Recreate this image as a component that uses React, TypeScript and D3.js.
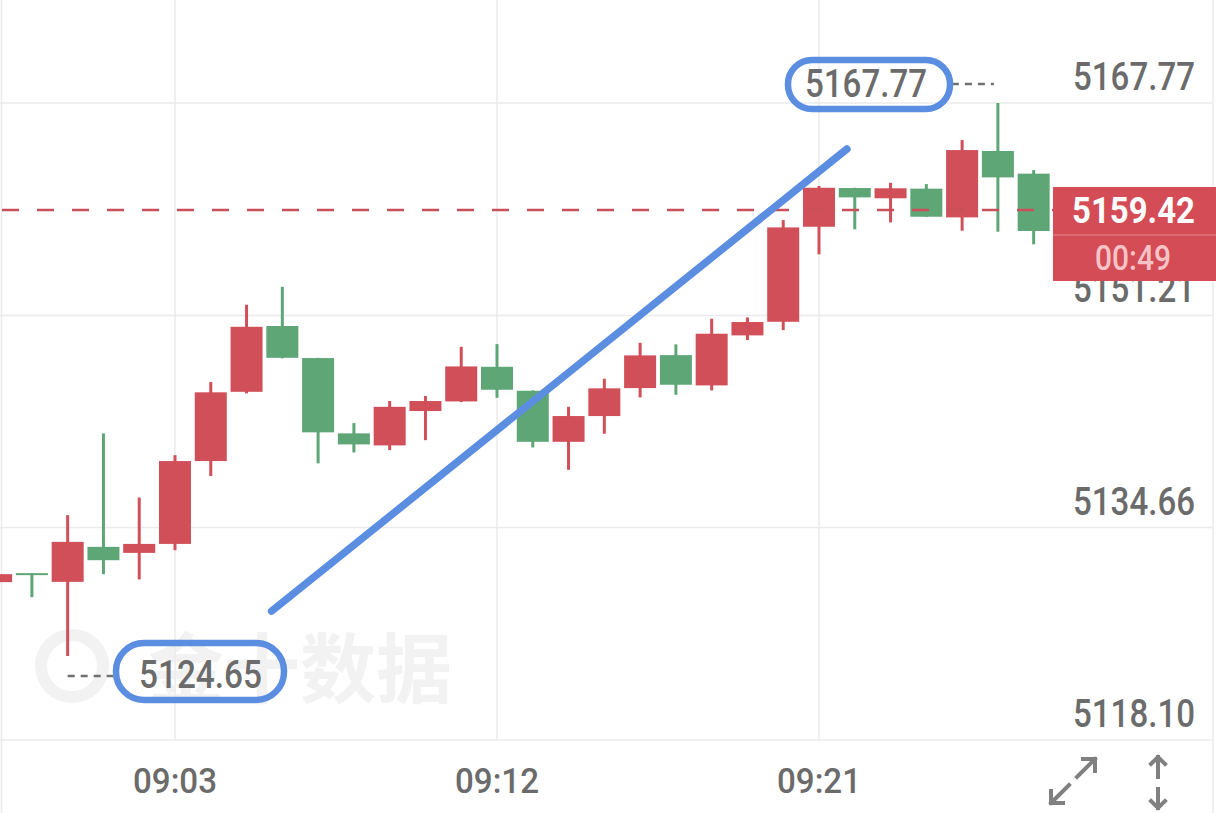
import * as d3 from "d3";

// candle data (1-minute bars)
const times = [
  "08:58", "08:59", "09:00", "09:01", "09:02", "09:03", "09:04", "09:05", "09:06", "09:07",
  "09:08", "09:09", "09:10", "09:11", "09:12", "09:13", "09:14", "09:15", "09:16", "09:17",
  "09:18", "09:19", "09:20", "09:21", "09:22", "09:23", "09:24", "09:25", "09:26", "09:27",
];
const opens = [
  5130.41, 5131.11, 5130.43, 5133.16, 5132.69, 5133.39, 5139.85, 5145.25, 5150.38, 5147.88,
  5142.01, 5141.07, 5143.75, 5144.5, 5147.2, 5145.33, 5141.35, 5143.36, 5145.54, 5148.11,
  5145.75, 5149.65, 5150.71, 5158.12, 5161.14, 5160.34, 5161.09, 5158.85, 5164.03, 5162.26,
];
const highs = [
  5131.1, 5131.11, 5135.63, 5142.01, 5137.01, 5140.31, 5146.01, 5152.04, 5153.44, 5147.9,
  5142.81, 5144.53, 5144.92, 5148.76, 5148.97, 5145.36, 5144.08, 5146.27, 5149.07, 5148.95,
  5150.95, 5151.05, 5158.64, 5161.3, 5161.16, 5161.55, 5161.45, 5164.88, 5167.77, 5162.54,
];
const lows = [
  5130.35, 5129.24, 5124.65, 5131.03, 5130.62, 5132.9, 5138.68, 5145.13, 5147.86, 5139.67,
  5140.52, 5140.7, 5141.48, 5144.45, 5144.78, 5140.91, 5139.17, 5141.98, 5144.81, 5145.02,
  5145.36, 5149.28, 5150.06, 5155.97, 5157.92, 5158.46, 5158.9, 5157.81, 5157.73, 5156.75,
];
const closes = [
  5131.03, 5131.03, 5133.55, 5132.12, 5133.39, 5139.85, 5145.21, 5150.32, 5147.9, 5142.09,
  5141.15, 5144.08, 5144.53, 5147.23, 5145.41, 5141.35, 5143.36, 5145.52, 5148.09, 5145.8,
  5149.78, 5150.69, 5158.07, 5161.16, 5160.41, 5161.12, 5158.9, 5164.1, 5161.97, 5157.79,
];

const yTicks = [5167.77, 5151.21, 5134.66, 5118.1];
const xTicks = ["09:03", "09:12", "09:21"];

const lastPrice = 5159.42;
const countdown = "00:49";
const maxPoint = { time: "09:26", price: 5167.77 };
const minPoint = { time: "09:00", price: 5124.65 };
// hand drawn trend line: [minutes after 09:00, price]
const trendLine: [number, number][] = [
  [5.7, 5128.15],
  [21.78, 5164.18],
];

const W = 1216;
const H = 813;
const RED = "#d14f58";
const GREEN = "#5fa677";
const BLUE = "#5b8ee0";
const GRID = "#ebebeb";
const TXT = "#6b6b6b";
const FONT = "Roboto, 'Noto Sans', sans-serif";

const toMin = (t: string) => {
  const [h, m] = t.split(":").map(Number);
  return h * 60 + m;
};

export default function App() {
  const x = d3
    .scaleLinear()
    .domain([toMin("09:03"), toMin("09:21")])
    .range([175, 819]);
  const y = d3.scaleLinear().domain([5118.1, 5167.77]).range([740, 103]);

  const candles = times.map((t, i) => ({
    t,
    o: opens[i],
    h: highs[i],
    l: lows[i],
    c: closes[i],
  }));
  const bodyW = 32;
  const plotRight = 1053;

  const fmt = d3.format(".2f");
  const tx = (m: number) => x(toMin("09:00") + m);

  const maxX = x(toMin(maxPoint.time));
  const maxY = y(maxPoint.price) - 19;
  const minX = x(toMin(minPoint.time));
  const minY = y(minPoint.price) + 20;
  const lastY = y(lastPrice);

  return (
    <div style={{ position: "fixed", left: 0, top: 0, width: W, height: H, background: "#fff" }}>
      <svg width={W} height={H} style={{ display: "block" }}>
        <rect width={W} height={H} fill="#fff" />

        {/* watermark */}
        <g fill="none">
          <circle cx={72} cy={666} r={31} stroke="#f2f2f2" strokeWidth={12} />
          <text
            x={148}
            y={697}
            fill="#f2f2f2"
            fontFamily="'Noto Sans CJK SC', sans-serif"
            fontWeight={700}
            fontSize={76}
          >
            金十数据
          </text>
        </g>

        {/* grid */}
        {yTicks.map((v) => (
          <line key={v} x1={0} x2={1213} y1={y(v)} y2={y(v)} stroke={GRID} strokeWidth={1.5} />
        ))}
        {xTicks.map((t) => (
          <line key={t} x1={x(toMin(t))} x2={x(toMin(t))} y1={0} y2={740} stroke={GRID} strokeWidth={1.5} />
        ))}
        <line x1={1.5} x2={1.5} y1={0} y2={H} stroke={GRID} strokeWidth={1.5} />
        <line x1={1213} x2={1213} y1={0} y2={H} stroke={GRID} strokeWidth={1.5} />

        {/* candles */}
        <g>
          {candles.map((d) => {
            const cx = x(toMin(d.t));
            const up = d.c >= d.o;
            const col = up ? RED : GREEN;
            const top = y(Math.max(d.o, d.c));
            const bot = y(Math.min(d.o, d.c));
            return (
              <g key={d.t}>
                <rect x={cx - 1.5} width={3} y={y(d.h)} height={Math.max(1, y(d.l) - y(d.h))} fill={col} />
                <rect x={cx - bodyW / 2} width={bodyW} y={top} height={Math.max(2, bot - top)} fill={col} />
              </g>
            );
          })}
        </g>

        {/* last price line */}
        <line
          x1={2}
          x2={plotRight}
          y1={lastY}
          y2={lastY}
          stroke="#c9505a"
          strokeWidth={2.5}
          strokeDasharray="17 18"
        />

        {/* y axis labels */}
        {yTicks.map((v) => (
          <text
            key={v}
            x={1073}
            y={y(v) - 13}
            fill={TXT}
            fontFamily={FONT}
            fontWeight={500}
            fontSize={39}
            textLength={122}
            lengthAdjust="spacingAndGlyphs"
          >
            {fmt(v)}
          </text>
        ))}

        {/* x axis labels */}
        {xTicks.map((t) => (
          <text
            key={t}
            x={x(toMin(t)) - 42}
            y={793}
            fill={TXT}
            fontFamily={FONT}
            fontWeight={500}
            fontSize={35}
            textLength={84}
            lengthAdjust="spacingAndGlyphs"
          >
            {t}
          </text>
        ))}

        {/* last price tag */}
        <rect x={plotRight} y={187} width={W - plotRight} height={94} fill="#d44c56" />
        <line x1={plotRight} x2={W} y1={235} y2={235} stroke="#e58a90" strokeWidth={1} />
        <text
          x={1072}
          y={223}
          fill="#fff"
          fontFamily={FONT}
          fontWeight={700}
          fontSize={37}
          textLength={123}
          lengthAdjust="spacingAndGlyphs"
        >
          {fmt(lastPrice)}
        </text>
        <text
          x={1095}
          y={270}
          fill="#f7c3c7"
          fontFamily={FONT}
          fontWeight={500}
          fontSize={35}
          textLength={76}
          lengthAdjust="spacingAndGlyphs"
        >
          {countdown}
        </text>

        {/* max marker */}
        <line x1={maxX - 46} x2={maxX - 4} y1={maxY} y2={maxY} stroke="#707070" strokeWidth={2.5} strokeDasharray="7 6" />
        <text
          x={805}
          y={97}
          fill={TXT}
          fontFamily={FONT}
          fontWeight={500}
          fontSize={39}
          textLength={122}
          lengthAdjust="spacingAndGlyphs"
        >
          {fmt(maxPoint.price)}
        </text>

        {/* min marker */}
        <line x1={minX} x2={minX + 50} y1={minY} y2={minY} stroke="#707070" strokeWidth={2.5} strokeDasharray="7 6" />
        <text
          x={139}
          y={688}
          fill={TXT}
          fontFamily={FONT}
          fontWeight={500}
          fontSize={39}
          textLength={123}
          lengthAdjust="spacingAndGlyphs"
        >
          {fmt(minPoint.price)}
        </text>

        {/* hand-drawn annotations */}
        <rect x={788} y={60} width={162} height={49} rx={24} fill="none" stroke={BLUE} strokeWidth={6.5} />
        <rect x={116} y={643} width={168} height={57} rx={28} fill="none" stroke={BLUE} strokeWidth={6.5} />
        <line
          x1={tx(trendLine[0][0])}
          y1={y(trendLine[0][1])}
          x2={tx(trendLine[1][0])}
          y2={y(trendLine[1][1])}
          stroke={BLUE}
          strokeWidth={7.5}
          strokeLinecap="round"
        />

        {/* bottom-right controls */}
        <g stroke="#808080" strokeWidth={4} fill="none" strokeLinecap="square">
          <path d="M1077,777 L1095,759 M1083,759 L1095,759 L1095,771" />
          <path d="M1069,785 L1051,803 M1051,791 L1051,803 L1063,803" />
          <path d="M1158,757 L1158,777 M1151,764 L1158,757 L1165,764" />
          <path d="M1158,789 L1158,808 M1151,801 L1158,808 L1165,801" />
        </g>
      </svg>
    </div>
  );
}
